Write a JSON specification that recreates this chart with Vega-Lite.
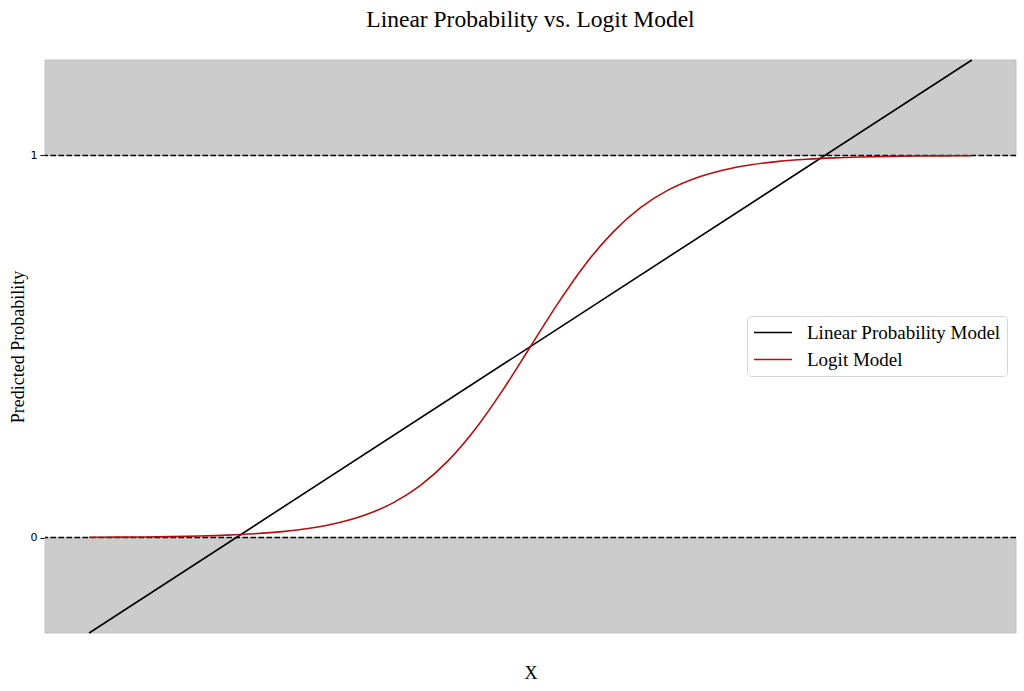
{
  "$schema": "https://vega.github.io/schema/vega-lite/v6.json",
  "width": 971,
  "height": 573,
  "autosize": {"type": "none"},
  "padding": {"left": 45, "top": 60, "right": 8, "bottom": 58},
  "background": "white",
  "title": {"text": "Linear Probability vs. Logit Model", "font": "Liberation Serif", "fontSize": 23.5, "fontWeight": "normal", "color": "black", "offset": 25, "anchor": "middle"},
  "config": {"view": {"stroke": null}},
  "datasets": {
    "bands": [{"lo": 1, "hi": 1.25}, {"lo": -0.25, "hi": 0}],
    "refs": [{"y": 0}, {"y": 1}],
    "curves": [
      {"model": "Linear Probability Model", "x": -4, "y": -0.25},
      {"model": "Linear Probability Model", "x": 4, "y": 1.25},
      {"model": "Logit Model", "x": -4, "y": 0.0006},
      {"model": "Logit Model", "x": -3.75, "y": 0.0010},
      {"model": "Logit Model", "x": -3.5, "y": 0.0015},
      {"model": "Logit Model", "x": -3.25, "y": 0.0024},
      {"model": "Logit Model", "x": -3, "y": 0.0039},
      {"model": "Logit Model", "x": -2.75, "y": 0.0061},
      {"model": "Logit Model", "x": -2.5, "y": 0.0097},
      {"model": "Logit Model", "x": -2.25, "y": 0.0153},
      {"model": "Logit Model", "x": -2, "y": 0.0241},
      {"model": "Logit Model", "x": -1.75, "y": 0.0378},
      {"model": "Logit Model", "x": -1.5, "y": 0.0587},
      {"model": "Logit Model", "x": -1.25, "y": 0.0901},
      {"model": "Logit Model", "x": -1, "y": 0.1359},
      {"model": "Logit Model", "x": -0.75, "y": 0.1998},
      {"model": "Logit Model", "x": -0.5, "y": 0.2839},
      {"model": "Logit Model", "x": -0.25, "y": 0.3864},
      {"model": "Logit Model", "x": 0, "y": 0.5},
      {"model": "Logit Model", "x": 0.25, "y": 0.6136},
      {"model": "Logit Model", "x": 0.5, "y": 0.7161},
      {"model": "Logit Model", "x": 0.75, "y": 0.8002},
      {"model": "Logit Model", "x": 1, "y": 0.8641},
      {"model": "Logit Model", "x": 1.25, "y": 0.9099},
      {"model": "Logit Model", "x": 1.5, "y": 0.9413},
      {"model": "Logit Model", "x": 1.75, "y": 0.9622},
      {"model": "Logit Model", "x": 2, "y": 0.9759},
      {"model": "Logit Model", "x": 2.25, "y": 0.9847},
      {"model": "Logit Model", "x": 2.5, "y": 0.9903},
      {"model": "Logit Model", "x": 2.75, "y": 0.9939},
      {"model": "Logit Model", "x": 3, "y": 0.9961},
      {"model": "Logit Model", "x": 3.25, "y": 0.9976},
      {"model": "Logit Model", "x": 3.5, "y": 0.9985},
      {"model": "Logit Model", "x": 3.75, "y": 0.9990},
      {"model": "Logit Model", "x": 4, "y": 0.9994}
    ]
  },
  "layer": [
    {
      "data": {"name": "bands"},
      "mark": {"type": "rect", "fill": "#cccccc", "stroke": "#c2c2c2", "strokeWidth": 1},
      "encoding": {
        "y": {"field": "lo", "type": "quantitative", "scale": {"domain": [-0.25, 1.25], "nice": false, "zero": false},
              "axis": {"values": [0, 1], "format": "d", "title": "Predicted Probability", "titleFont": "Liberation Serif", "titleFontSize": 18, "titleFontWeight": "normal", "titleColor": "black", "titlePadding": 3, "labelFont": "DejaVu Sans", "labelFontSize": 11, "labelColor": "black", "labelPadding": 3, "tickSize": 5, "tickColor": "black", "domain": false, "grid": false}},
        "y2": {"field": "hi"}
      }
    },
    {
      "data": {"name": "refs"},
      "mark": {"type": "rule", "color": "black", "strokeWidth": 1.5, "strokeDash": [5.5, 2.5]},
      "encoding": {"y": {"field": "y", "type": "quantitative"}}
    },
    {
      "data": {"name": "curves"},
      "mark": {"type": "line", "strokeWidth": 1.6, "interpolate": "monotone"},
      "encoding": {
        "x": {"field": "x", "type": "quantitative", "scale": {"domain": [-4.4, 4.4], "nice": false, "zero": false},
              "axis": {"title": "X", "titleFont": "Liberation Serif", "titleFontSize": 18, "titleFontWeight": "normal", "titleColor": "black", "titlePadding": 31, "labels": false, "ticks": false, "domain": false, "grid": false}},
        "y": {"field": "y", "type": "quantitative"},
        "color": {"field": "model", "type": "nominal",
                  "scale": {"domain": ["Linear Probability Model", "Logit Model"], "range": ["black", "#b01010"]},
                  "legend": {"title": null, "orient": "none", "legendX": 702, "legendY": 256, "symbolType": "M-1,0H3", "symbolSize": 361, "symbolStrokeWidth": 1.6, "symbolFillColor": "transparent", "labelFont": "Liberation Serif", "labelFontSize": 19, "labelColor": "black", "labelOffset": 33, "rowPadding": 6, "padding": 6, "fillColor": "white", "strokeColor": "#d6d6d6", "cornerRadius": 4, "labelLimit": 300}}
      }
    }
  ]
}
